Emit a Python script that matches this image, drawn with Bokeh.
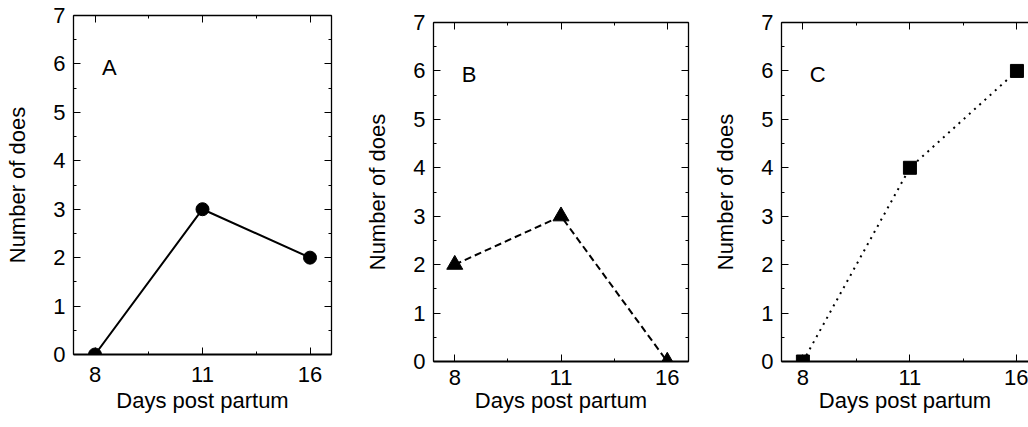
from bokeh.plotting import figure
from bokeh.layouts import row, column
from bokeh.models import (Range1d, FixedTicker, SingleIntervalTicker, LinearAxis,
                          Label, ColumnDataSource, CustomLabelingPolicy, Spacer)
from bokeh.embed import file_html
from bokeh.resources import INLINE

# ---- data ----
days = ["8", "11", "16"]
does_a = [0, 3, 2]
does_b = [2, 3, 0]
does_c = [0, 4, 6]
y_ticks_max = 7
x_label = "Days post partum"
y_label = "Number of does"

FONT = "Liberation Sans"
x_pos = list(range(len(days)))
x_minor = [(a + b) / 2 for a, b in zip(x_pos, x_pos[1:])]


def base_axis(ax, line_width=1.3, show_labels=True):
    ax.major_tick_in = 7
    ax.major_tick_out = 0
    ax.minor_tick_in = 3
    ax.minor_tick_out = 0
    ax.major_tick_line_color = "black"
    ax.minor_tick_line_color = "black"
    ax.major_tick_line_width = 1
    ax.minor_tick_line_width = 1
    ax.axis_line_color = "black"
    ax.axis_line_width = line_width
    ax.major_label_text_font = FONT
    ax.major_label_text_color = "black"
    ax.axis_label_text_font = FONT
    ax.axis_label_text_color = "black"
    ax.axis_label_text_font_style = "normal"
    if not show_labels:
        ax.major_label_text_font_size = "1px"
        ax.major_label_standoff = 0
        ax.major_label_policy = CustomLabelingPolicy(code="return []")
        ax.axis_label = None
        ax.axis_label_standoff = 0


def make_panel(ys, letter, marker, msize, dash, width, height, bl, br, bt, bb,
               x_end, right_axis, s_tick_b, s_label_b):
    p = figure(width=width, height=height, toolbar_location=None, output_backend="svg",
               x_range=Range1d(-0.2, x_end), y_range=Range1d(0, y_ticks_max),
               min_border_left=bl, min_border_right=br, min_border_top=bt,
               min_border_bottom=bb)
    p.grid.visible = False
    p.outline_line_color = None
    p.background_fill_color = "white"
    p.border_fill_color = "white"

    xt = FixedTicker(ticks=x_pos, minor_ticks=x_minor)
    yt = SingleIntervalTicker(interval=1, num_minor_ticks=2)
    overrides = {i: d for i, d in zip(x_pos, days)}

    xa = p.xaxis[0]
    base_axis(xa, line_width=2)
    xa.ticker = xt
    xa.major_label_overrides = overrides
    xa.major_label_text_font_size = "22px"
    xa.major_label_standoff = s_tick_b
    xa.axis_label = x_label
    xa.axis_label_text_font_size = "22px"
    xa.axis_label_standoff = s_label_b

    ya = p.yaxis[0]
    base_axis(ya)
    ya.ticker = yt
    ya.major_label_text_font_size = "22px"
    ya.major_label_standoff = 8
    ya.axis_label = y_label
    ya.axis_label_text_font_size = "22px"
    ya.axis_label_standoff = 20

    top = LinearAxis(ticker=FixedTicker(ticks=x_pos, minor_ticks=x_minor))
    base_axis(top, line_width=1.5, show_labels=False)
    p.add_layout(top, "above")
    if right_axis:
        ra = LinearAxis(ticker=SingleIntervalTicker(interval=1, num_minor_ticks=2))
        base_axis(ra, line_width=1.3, show_labels=False)
        p.add_layout(ra, "right")

    src = ColumnDataSource(dict(x=x_pos, y=ys))
    p.line("x", "y", source=src, line_color="black", line_width=2, line_dash=dash)
    p.scatter("x", "y", source=src, marker=marker, size=msize,
              fill_color="black", line_color="black")

    p.add_layout(Label(x=0.065, y=5.93, text=letter, text_font=FONT,
                       text_font_size="22px", text_color="black",
                       text_baseline="alphabetic", text_align="left"))
    return p


pa = make_panel(does_a, "A", "circle", 13, "solid", 351, 427, 73, 20, 15, 73,
                2.2, True, 12, 3)
pb = make_panel(does_b, "B", "triangle", 16, "7 4", 357, 420, 82, 20, 15, 66,
                2.2, True, 8, 0)
pc = make_panel(does_c, "C", "square", 13, "2 5", 320, 420, 73, 0, 15, 66,
                2.108, False, 8, 0)

layout = row(pa, column(Spacer(width=357, height=7), pb),
             column(Spacer(width=320, height=7), pc))
open("out.html", "w").write(file_html(layout, INLINE))
